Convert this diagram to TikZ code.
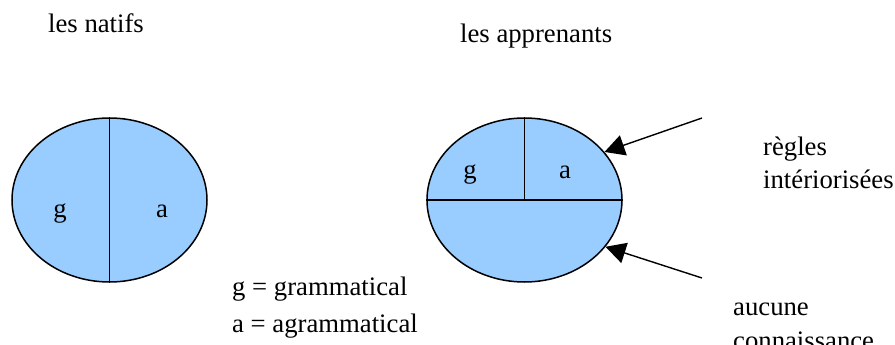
\documentclass[tikz,border=0pt]{standalone}
\usepackage{fontspec}
\setmainfont{Liberation Serif}
\usetikzlibrary{positioning, arrows.meta, shapes.geometric}
\definecolor{setblue}{HTML}{99CCFF}

\begin{document}
\begin{tikzpicture}[
    x=1pt, y=-1pt,
    font=\fontsize{26.7}{32}\selectfont,
    lbl/.style={anchor=base west, inner sep=0pt},
    letter/.style={anchor=base, inner sep=0pt},
    set/.style={ellipse, draw, line width=1.5pt, fill=setblue, minimum width=195pt, minimum height=164pt, inner sep=0pt},
    arr/.style={line width=1.4pt, -{Triangle[length=20pt, width=21pt]}},
]
\useasboundingbox (0,0) rectangle (895,345);

% Titles
\node[lbl] (natifs) at (48,33) {les natifs};
\node[lbl] (apprenants) at (460,43) {les apprenants};

% Native speakers: two halves
\node[set] (nat) at (109.5,200) {};
\draw[line width=1.5pt] (nat.north) -- (nat.south);
\node[letter] (natg) at (60,217) {g};
\node[letter] (nata) at (162,217) {a};

% Learners: upper part split, lower part empty
\node[set] (appr) at (524.5,200) {};
\draw[line width=1.5pt] (appr.west) -- (appr.east);
\draw[line width=1.5pt] (appr.north) -- (appr.center);
\node[letter] (apprg) at (470,178) {g};
\node[letter] (appra) at (565,178) {a};

% Legend
\node[lbl] (legg) at (232,295) {g = grammatical};
\node[lbl] (lega) at (232,332) {a = agrammatical};

% Arrows and their labels
\coordinate (rtop) at (702,118);
\coordinate (rbot) at (702,278);
\draw[arr] (rtop) -- (appr.31);
\draw[arr] (rbot) -- (appr.-30);
\node[lbl] (regles) at (763,155) {règles};
\node[lbl] (interior) at (763,188) {intériorisées};
\node[lbl] (aucune) at (733,315) {aucune};
\node[lbl] (connais) at (733,349) {connaissance};

\end{tikzpicture}
\end{document}
